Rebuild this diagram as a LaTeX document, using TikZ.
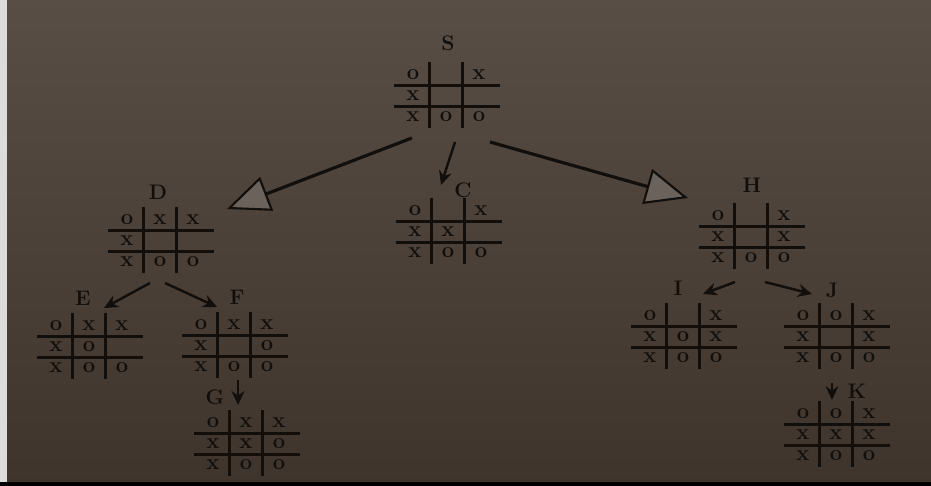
\documentclass[tikz,border=0pt]{standalone}
\usetikzlibrary{arrows.meta}

\definecolor{paper}{HTML}{594E45}
\definecolor{paperdark}{HTML}{3F342B}
\definecolor{ink}{HTML}{120E0B}
\definecolor{headgray}{HTML}{6A625B}
\definecolor{strip}{HTML}{DCDCDC}

\tikzset{
	gridline/.style={ink, line width=1.2pt},
	cellmark/.style={ink, font=\fontsize{12.5}{14}\bfseries, inner sep=0pt},
	statelabel/.style={ink, font=\fontsize{12}{14}\bfseries, inner sep=0pt},
	bigarrow/.style={ink, line width=1.8pt, -{Triangle[length=0.85cm, width=0.72cm, line width=1.2pt, fill=headgray]}},
	smallarrow/.style={ink, line width=1.4pt, -{Stealth[length=0.28cm, width=0.26cm]}},
}

% #1 name, #2 centre, #3 the nine cells row by row
\newcommand{\tttboard}[3]{%
	\begin{scope}[shift={#2}]
		\draw[gridline] (-16.5, -34) -- (-16.5, 32);
		\draw[gridline] (16.5, -34) -- (16.5, 32);
		\draw[gridline] (-52, -10.5) -- (54, -10.5);
		\draw[gridline] (-52, 10.5) -- (54, 10.5);
		\foreach \m [count=\k from 0] in {#3} {
			\pgfmathtruncatemacro{\bcol}{mod(\k,3)}
			\pgfmathtruncatemacro{\brow}{\k/3}
			\node[cellmark] (#1-\k) at ({(\bcol-1)*33}, {(\brow-1)*21}) {\m};
		}
	\end{scope}}

\begin{document}
\begin{tikzpicture}[x=0.02cm, y=-0.02cm]
	\useasboundingbox (0, 0) rectangle (931, 486);

	% photo background
	\shade[top color=paper, bottom color=paperdark] (0, 0) rectangle (931, 486);
	\fill[strip] (0, 0) rectangle (7, 486);
	\fill[black] (0, 482) rectangle (931, 486);

	% boards
	\tttboard{S}{(446, 96)}{o,{},x,x,{},{},x,o,o}
	\tttboard{D}{(160, 241)}{o,x,x,x,{},{},x,o,o}
	\tttboard{C}{(448, 232)}{o,{},x,x,x,{},x,o,o}
	\tttboard{H}{(751, 237)}{o,{},x,x,{},x,x,o,o}
	\tttboard{E}{(89, 347)}{o,x,x,x,o,{},x,o,o}
	\tttboard{F}{(234, 346)}{o,x,x,x,{},o,x,o,o}
	\tttboard{G}{(246, 444)}{o,x,x,x,x,o,x,o,o}
	\tttboard{I}{(683, 337)}{o,{},x,x,o,x,x,o,o}
	\tttboard{J}{(836, 337)}{o,o,x,x,{},x,x,o,o}
	\tttboard{K}{(836, 435)}{o,o,x,x,x,x,x,o,o}

	% labels
	\node[statelabel] (S) at (448, 43) {S};
	\node[statelabel] (D) at (158, 192) {D};
	\node[statelabel] (C) at (463, 190) {C};
	\node[statelabel] (H) at (752, 185) {H};
	\node[statelabel] (E) at (83, 298) {E};
	\node[statelabel] (F) at (237, 297) {F};
	\node[statelabel] (G) at (215, 397) {G};
	\node[statelabel] (I) at (678, 288) {I};
	\node[statelabel] (J) at (832, 290) {J};
	\node[statelabel] (K) at (857, 391) {K};

	% arrow ends
	\coordinate (S-to-D) at (412, 138);
	\coordinate (D-in) at (227, 209);
	\coordinate (S-to-C) at (455, 142);
	\coordinate (C-in) at (441, 185);
	\coordinate (S-to-H) at (490, 142);
	\coordinate (H-in) at (688, 198);
	\coordinate (D-to-E) at (150, 283);
	\coordinate (E-in) at (104, 308);
	\coordinate (D-to-F) at (165, 283);
	\coordinate (F-in) at (217, 307);
	\coordinate (F-to-G) at (238, 380);
	\coordinate (G-in) at (238, 405);
	\coordinate (H-to-I) at (735, 282);
	\coordinate (I-in) at (703, 294);
	\coordinate (H-to-J) at (765, 282);
	\coordinate (J-in) at (812, 294);
	\coordinate (J-to-K) at (832, 383);
	\coordinate (K-in) at (832, 400);

	\draw[bigarrow] (S-to-D) -- (D-in);
	\draw[smallarrow] (S-to-C) -- (C-in);
	\draw[bigarrow] (S-to-H) -- (H-in);
	\draw[smallarrow] (D-to-E) -- (E-in);
	\draw[smallarrow] (D-to-F) -- (F-in);
	\draw[smallarrow] (F-to-G) -- (G-in);
	\draw[smallarrow] (H-to-I) -- (I-in);
	\draw[smallarrow] (H-to-J) -- (J-in);
	\draw[smallarrow] (J-to-K) -- (K-in);
\end{tikzpicture}
\end{document}
